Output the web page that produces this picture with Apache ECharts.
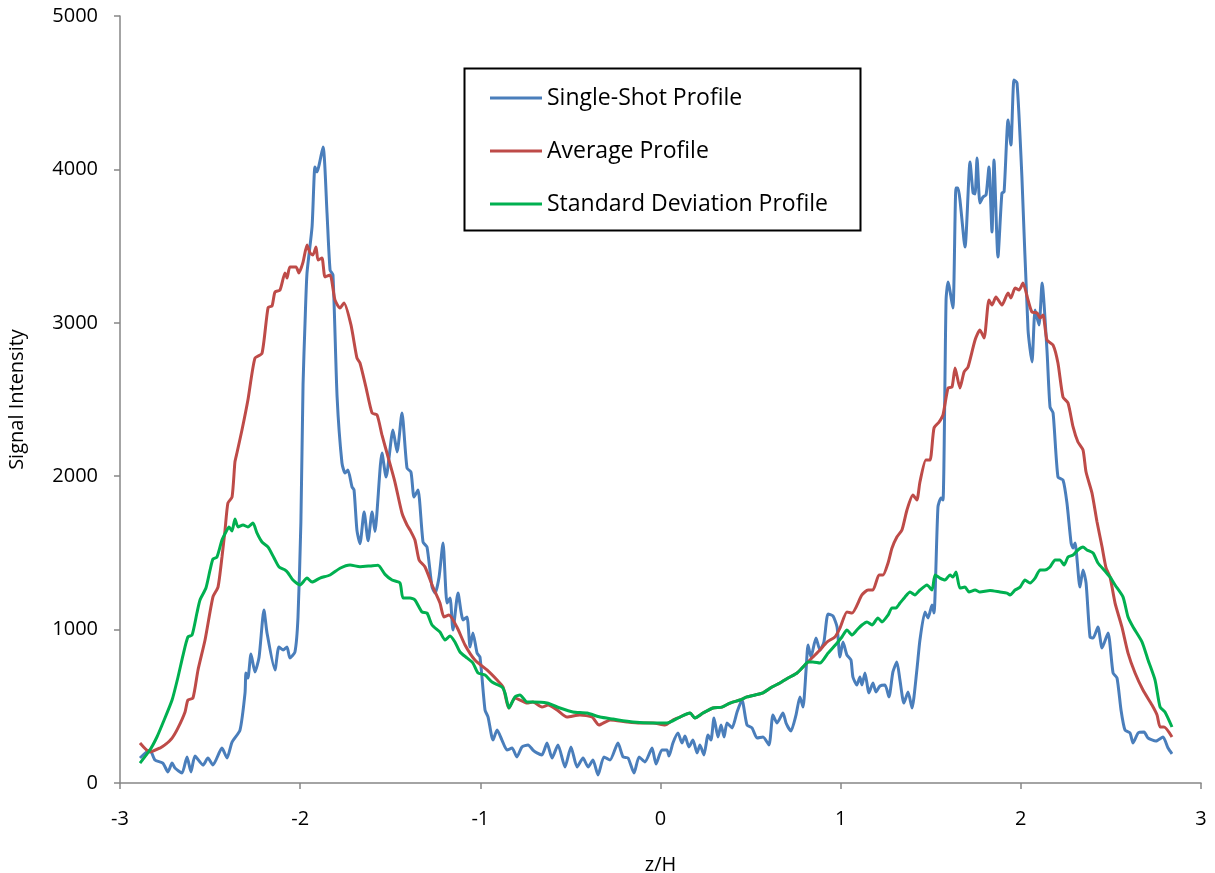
<!DOCTYPE html>
<html>
<head>
<meta charset="utf-8">
<script src="https://cdn.jsdelivr.net/npm/echarts@6/dist/echarts.min.js"></script>
<style>html,body{margin:0;padding:0;background:#fff}#c{width:1215px;height:873px}</style>
</head>
<body>
<div id="c"></div>
<script>
const xTicks = [-3, -2, -1, 0, 1, 2, 3];
const seriesNames = ['Single-Shot Profile', 'Average Profile', 'Standard Deviation Profile'];

const singleX = [-2.889,-2.834,-2.806,-2.762,-2.734,-2.711,-2.695,-2.656,-2.628,-2.606,-2.584,-2.539,-2.512,-2.484,-2.434,-2.406,-2.378,-2.334,-2.306,-2.301,-2.290,-2.273,-2.251,-2.228,-2.201,-2.184,-2.140,-2.118,-2.095,-2.073,-2.057,-2.029,-2.012,-1.996,-1.984,-1.973,-1.962,-1.934,-1.918,-1.907,-1.873,-1.851,-1.834,-1.818,-1.795,-1.768,-1.751,-1.735,-1.712,-1.701,-1.685,-1.668,-1.645,-1.623,-1.601,-1.585,-1.546,-1.523,-1.485,-1.462,-1.435,-1.407,-1.385,-1.368,-1.346,-1.318,-1.296,-1.268,-1.251,-1.229,-1.207,-1.185,-1.168,-1.152,-1.124,-1.096,-1.074,-1.057,-1.041,-1.018,-1.002,-0.974,-0.957,-0.930,-0.907,-0.880,-0.852,-0.824,-0.797,-0.769,-0.735,-0.708,-0.686,-0.658,-0.630,-0.602,-0.569,-0.530,-0.497,-0.463,-0.430,-0.402,-0.375,-0.347,-0.314,-0.280,-0.236,-0.208,-0.180,-0.147,-0.119,-0.086,-0.047,-0.025,0.008,0.036,0.047,0.069,0.097,0.119,0.136,0.158,0.180,0.203,0.219,0.241,0.264,0.280,0.297,0.319,0.336,0.353,0.369,0.397,0.425,0.452,0.480,0.508,0.536,0.569,0.602,0.624,0.647,0.680,0.697,0.724,0.752,0.774,0.791,0.808,0.819,0.835,0.863,0.885,0.907,0.930,0.957,0.980,0.996,1.013,1.035,1.057,1.068,1.090,1.107,1.118,1.135,1.157,1.179,1.196,1.218,1.246,1.268,1.290,1.312,1.329,1.351,1.374,1.396,1.423,1.440,1.468,1.485,1.507,1.518,1.540,1.557,1.568,1.585,1.596,1.623,1.640,1.651,1.690,1.718,1.735,1.746,1.757,1.773,1.790,1.807,1.823,1.840,1.851,1.873,1.895,1.907,1.929,1.945,1.962,1.979,2.006,2.040,2.062,2.079,2.101,2.118,2.145,2.162,2.179,2.206,2.234,2.256,2.279,2.290,2.301,2.328,2.345,2.362,2.384,2.401,2.428,2.451,2.484,2.512,2.534,2.556,2.578,2.606,2.623,2.651,2.684,2.706,2.750,2.789,2.817,2.839];
const singleY = [163,215,150,130,72,130,98,65,170,72,176,117,163,117,228,163,267,345,587,717,684,841,724,821,1128,978,737,887,867,887,815,854,1082,1700,2600,3000,3325,3625,4016,3983,4146,3716,3344,3312,2516,2086,2021,2040,1930,1910,1649,1560,1767,1580,1767,1640,2151,1995,2301,2158,2412,2053,2027,1864,1910,1571,1538,1277,1238,1343,1565,1173,1206,997,1238,1063,1082,887,978,847,821,476,430,280,345,280,215,228,170,235,248,215,196,183,261,163,248,104,235,104,163,104,150,52,170,150,261,170,163,65,170,137,228,124,215,215,176,261,326,261,306,235,280,196,248,183,313,280,424,300,378,300,391,359,463,541,378,359,293,300,248,443,391,456,391,339,443,561,495,737,900,821,945,867,919,1102,1089,1017,821,919,834,802,691,639,691,639,717,587,652,593,632,639,561,724,789,671,521,593,489,737,932,1115,1076,1160,1108,1799,1858,1845,3149,3266,3096,3879,3879,3494,4048,3846,3840,4074,3781,3820,3833,4016,3592,4061,3429,3846,3853,4322,4159,4583,4563,3950,2953,2745,3083,2986,3259,2823,2451,2412,1995,1975,1825,1565,1532,1565,1277,1389,1304,952,945,1017,880,978,717,684,476,345,326,261,326,332,293,274,300,228,190];

const avgX = [-2.889,-2.834,-2.778,-2.751,-2.711,-2.678,-2.639,-2.623,-2.595,-2.567,-2.528,-2.484,-2.456,-2.434,-2.417,-2.401,-2.378,-2.362,-2.351,-2.323,-2.290,-2.251,-2.212,-2.178,-2.156,-2.140,-2.112,-2.084,-2.073,-2.057,-2.023,-2.007,-1.984,-1.962,-1.945,-1.929,-1.912,-1.901,-1.879,-1.862,-1.834,-1.807,-1.779,-1.757,-1.718,-1.685,-1.668,-1.635,-1.601,-1.573,-1.546,-1.512,-1.474,-1.435,-1.407,-1.390,-1.363,-1.340,-1.307,-1.263,-1.224,-1.202,-1.174,-1.130,-1.085,-1.030,-0.963,-0.907,-0.874,-0.841,-0.808,-0.780,-0.741,-0.708,-0.658,-0.624,-0.574,-0.519,-0.447,-0.380,-0.341,-0.280,-0.186,-0.114,-0.042,0.025,0.069,0.108,0.164,0.191,0.236,0.291,0.341,0.386,0.441,0.480,0.525,0.569,0.619,0.663,0.708,0.758,0.791,0.846,0.885,0.924,0.968,0.996,1.035,1.063,1.118,1.152,1.179,1.213,1.235,1.263,1.285,1.312,1.340,1.368,1.401,1.423,1.440,1.473,1.496,1.518,1.546,1.568,1.596,1.618,1.635,1.662,1.685,1.707,1.746,1.773,1.796,1.823,1.840,1.862,1.895,1.929,1.945,1.968,1.990,2.012,2.040,2.062,2.090,2.107,2.123,2.145,2.179,2.206,2.234,2.262,2.290,2.317,2.345,2.362,2.395,2.423,2.451,2.473,2.495,2.523,2.561,2.595,2.634,2.678,2.728,2.756,2.773,2.795,2.839];
const avgY = [261,202,228,248,293,359,463,541,554,737,932,1213,1277,1473,1649,1825,1864,2093,2151,2301,2497,2770,2800,3100,3110,3200,3214,3325,3292,3364,3364,3325,3396,3507,3455,3442,3494,3409,3422,3299,3312,3149,3096,3129,2986,2771,2738,2581,2412,2399,2269,2125,1962,1760,1682,1649,1584,1454,1408,1277,1173,1082,1095,1017,900,802,737,671,626,489,554,541,521,528,495,508,476,430,443,430,378,411,398,391,391,378,411,430,456,424,456,489,495,521,541,561,574,587,626,652,684,717,756,821,867,919,952,1010,1115,1108,1226,1258,1258,1356,1356,1434,1532,1604,1649,1780,1877,1845,1962,2106,2106,2314,2353,2399,2575,2581,2705,2575,2679,2712,2888,2953,2901,3149,3116,3168,3116,3194,3162,3227,3214,3259,3149,3070,3064,3031,3051,2888,2855,2738,2516,2477,2321,2223,2171,2027,1890,1701,1538,1402,1343,1173,1017,847,717,606,508,443,365,365,300];

const stdX = [-2.889,-2.834,-2.795,-2.762,-2.711,-2.678,-2.650,-2.623,-2.600,-2.573,-2.556,-2.523,-2.500,-2.484,-2.462,-2.434,-2.412,-2.395,-2.378,-2.362,-2.345,-2.317,-2.290,-2.262,-2.240,-2.212,-2.178,-2.145,-2.117,-2.084,-2.067,-2.040,-2.001,-1.962,-1.934,-1.890,-1.834,-1.779,-1.723,-1.668,-1.612,-1.568,-1.529,-1.490,-1.446,-1.429,-1.390,-1.363,-1.324,-1.296,-1.268,-1.224,-1.196,-1.168,-1.141,-1.113,-1.074,-1.041,-1.013,-0.974,-0.935,-0.880,-0.863,-0.841,-0.808,-0.780,-0.741,-0.708,-0.630,-0.558,-0.486,-0.408,-0.336,-0.264,-0.153,-0.042,0.036,0.108,0.164,0.191,0.236,0.291,0.341,0.386,0.441,0.480,0.525,0.569,0.619,0.663,0.708,0.758,0.791,0.819,0.846,0.885,0.930,0.980,1.007,1.035,1.063,1.090,1.118,1.146,1.174,1.207,1.229,1.263,1.285,1.307,1.329,1.357,1.385,1.412,1.440,1.479,1.507,1.524,1.551,1.579,1.607,1.623,1.640,1.662,1.690,1.712,1.746,1.773,1.829,1.884,1.923,1.940,1.968,1.996,2.023,2.051,2.079,2.107,2.134,2.162,2.190,2.217,2.240,2.262,2.290,2.317,2.345,2.367,2.401,2.428,2.467,2.495,2.523,2.567,2.595,2.623,2.673,2.706,2.745,2.773,2.800,2.839];
const stdY = [130,215,300,391,541,691,834,952,965,1108,1193,1271,1389,1460,1473,1584,1636,1669,1643,1721,1669,1682,1669,1695,1630,1571,1538,1467,1408,1389,1369,1323,1291,1336,1310,1336,1356,1400,1421,1410,1415,1420,1360,1323,1304,1206,1206,1193,1115,1108,1030,984,932,958,919,854,815,782,717,704,658,626,587,489,561,574,528,528,521,489,463,456,430,417,398,391,391,430,456,424,456,489,495,521,541,561,574,587,626,652,684,717,756,789,789,782,847,913,952,997,965,997,1030,1050,1030,1076,1050,1095,1141,1141,1173,1213,1245,1226,1258,1291,1258,1356,1336,1323,1356,1343,1375,1271,1277,1245,1258,1245,1255,1245,1238,1226,1258,1277,1323,1304,1336,1389,1389,1408,1454,1454,1421,1473,1486,1519,1538,1519,1499,1434,1382,1343,1291,1213,1082,1017,919,802,671,495,463,365];

const zip = (xs, ys) => xs.map((x, i) => [x, ys[i]]);
const colors = ['#4A7EBB', '#BE4B48', '#00B050'];
const FONT = 'Open Sans';

const chart = echarts.init(document.getElementById('c'));
chart.setOption({
  backgroundColor: '#ffffff',
  animation: false,
  textStyle: { fontFamily: FONT },
  grid: { left: 120, right: 14, top: 16, bottom: 90, outerBoundsMode: 'none', containLabel: false },
  graphic: [{
    type: 'rect', left: 462, top: 66,
    shape: { width: 396, height: 162 },
    style: { fill: 'none', stroke: '#000', lineWidth: 2 }
  }],
  legend: {
    orient: 'vertical', left: 490, top: 84, padding: 0,
    icon: 'rect', itemWidth: 52, itemHeight: 3, itemGap: 25,
    textStyle: { fontFamily: FONT, fontSize: 23, color: '#000', lineHeight: 28 },
    data: seriesNames
  },
  xAxis: {
    type: 'value', min: xTicks[0], max: xTicks[xTicks.length - 1], interval: 1,
    name: 'z/H', nameLocation: 'middle', nameGap: 72,
    nameTextStyle: { fontFamily: FONT, fontSize: 20, color: '#000' },
    axisLine: { onZero: false, lineStyle: { color: '#868686', width: 1.5 } },
    axisTick: { show: true, length: 6, lineStyle: { color: '#868686', width: 1.5 } },
    axisLabel: { fontFamily: FONT, fontSize: 20, color: '#000', margin: 26 },
    splitLine: { show: false }
  },
  yAxis: {
    type: 'value', min: 0, max: 5000, interval: 1000,
    name: 'Signal Intensity', nameLocation: 'middle', nameGap: 93,
    nameTextStyle: { fontFamily: FONT, fontSize: 20, color: '#000' },
    axisLine: { show: true, onZero: false, lineStyle: { color: '#868686', width: 1.5 } },
    axisTick: { show: true, length: 6, lineStyle: { color: '#868686', width: 1.5 } },
    axisLabel: { fontFamily: FONT, fontSize: 20, color: '#000', margin: 22, formatter: v => String(v) },
    splitLine: { show: false }
  },
  series: [
    { name: seriesNames[0], type: 'line', data: zip(singleX, singleY), symbol: 'none', smooth: 0.2,
      lineStyle: { color: colors[0], width: 3 }, itemStyle: { color: colors[0] } },
    { name: seriesNames[1], type: 'line', data: zip(avgX, avgY), symbol: 'none', smooth: 0.2,
      lineStyle: { color: colors[1], width: 3 }, itemStyle: { color: colors[1] } },
    { name: seriesNames[2], type: 'line', data: zip(stdX, stdY), symbol: 'none', smooth: 0.2,
      lineStyle: { color: colors[2], width: 3 }, itemStyle: { color: colors[2] } }
  ]
});
</script>
</body>
</html>
